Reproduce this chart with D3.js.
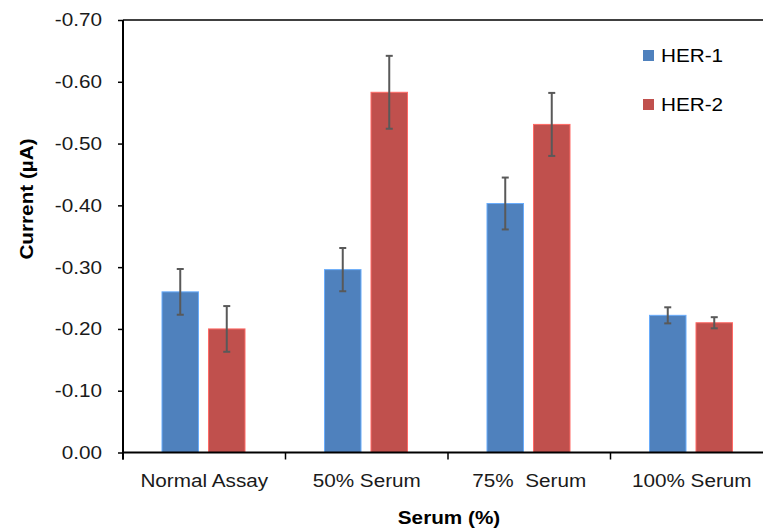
<!DOCTYPE html>
<html lang="en">
<head>
    <meta charset="UTF-8">
    <title>Current vs Serum</title>
    <script src="https://cdn.jsdelivr.net/npm/d3@7"></script>
    <style>
        body {
            margin: 0;
            background: #fff;
        }
        svg {
            display: block;
            font-family: "Liberation Sans", Arial, sans-serif;
        }
        .tick text {
            font-size: 18.5px;
            fill: #1a1a1a;
        }
        .axis-title {
            font-size: 18.5px;
            font-weight: bold;
            fill: #000;
        }
        .legend text {
            font-size: 18.5px;
            fill: #000;
        }
    </style>
</head>
<body>
    <svg width="763" height="531"></svg>

    <script>
        // Categories and series
        const categories = ["Normal Assay", "50% Serum", "75%  Serum", "100% Serum"];
        const seriesNames = ["HER-1", "HER-2"];
        const seriesColors = ["#4F81BD", "#C0504D"];

        // Current (uA)
        const her1Values = [-0.260, -0.296, -0.403, -0.222];
        const her1Errors = [0.037, 0.035, 0.042, 0.013];
        const her2Values = [-0.200, -0.583, -0.531, -0.210];
        const her2Errors = [0.037, 0.059, 0.051, 0.009];

        const yTicks = [0, -0.1, -0.2, -0.3, -0.4, -0.5, -0.6, -0.7];

        const svg = d3.select("svg");
        const plotLeft = 123, plotRight = 773, plotTop = 20, plotBottom = 452.5;
        const stretch = 1.12;   // the original figure text is a bit wide

        const x0 = d3.scaleBand().domain(categories).range([plotLeft, plotRight]);
        const x1 = d3.scaleBand().domain(seriesNames)
            .range([39, 39 + 83]).paddingInner(0.215);
        const y = d3.scaleLinear().domain([0, -0.7]).range([plotBottom, plotTop]);

        const locale = d3.formatLocale({ decimal: ".", thousands: ",", grouping: [3], currency: ["", ""], minus: "-" });
        const fmt = locale.format(".2f");

        function widen(sel, sx) {
            sel.each(function() {
                const t = d3.select(this);
                const xx = +t.attr("x") || 0;
                t.attr("transform", `translate(${xx * (1 - sx)},0) scale(${sx},1)`);
            });
        }

        // bars
        const rows = categories.map((c, i) => ({
            cat: c,
            vals: [
                { s: seriesNames[0], v: her1Values[i], e: her1Errors[i], color: seriesColors[0] },
                { s: seriesNames[1], v: her2Values[i], e: her2Errors[i], color: seriesColors[1] }
            ]
        }));

        const groups = svg.append("g")
            .selectAll("g")
            .data(rows)
            .enter().append("g")
            .attr("transform", d => `translate(${x0(d.cat)},0)`);

        groups.selectAll("rect")
            .data(d => d.vals)
            .enter().append("rect")
            .attr("x", d => x1(d.s))
            .attr("width", x1.bandwidth())
            .attr("y", d => y(d.v))
            .attr("height", d => y(0) - y(d.v))
            .attr("fill", d => d.color)
            .attr("stroke", d => d3.color(d.color).brighter(0.8))
            .attr("stroke-width", 1);

        // error bars
        const err = groups.selectAll("g.err")
            .data(d => d.vals)
            .enter().append("g")
            .attr("class", "err")
            .attr("stroke", "#595959")
            .attr("stroke-width", 2);

        const cx = d => x1(d.s) + x1.bandwidth() / 2;
        err.append("line")
            .attr("x1", cx).attr("x2", cx)
            .attr("y1", d => y(d.v - d.e)).attr("y2", d => y(d.v + d.e));
        err.append("line")
            .attr("x1", d => cx(d) - 3.5).attr("x2", d => cx(d) + 3.5)
            .attr("y1", d => y(d.v - d.e)).attr("y2", d => y(d.v - d.e));
        err.append("line")
            .attr("x1", d => cx(d) - 3.5).attr("x2", d => cx(d) + 3.5)
            .attr("y1", d => y(d.v + d.e)).attr("y2", d => y(d.v + d.e));

        // y axis
        const yAxis = svg.append("g")
            .attr("transform", `translate(${plotLeft},0)`)
            .call(d3.axisLeft(y).tickValues(yTicks).tickFormat(fmt)
                .tickSize(5).tickSizeOuter(0).tickPadding(16));
        yAxis.select(".domain").remove();
        yAxis.selectAll(".tick line").attr("stroke", "#000").attr("stroke-width", 1.5);
        widen(yAxis.selectAll(".tick text"), stretch);

        // x axis labels
        const xAxis = svg.append("g")
            .attr("transform", `translate(0,${plotBottom})`)
            .call(d3.axisBottom(x0).tickSize(0).tickPadding(21));
        xAxis.select(".domain").remove();
        xAxis.selectAll(".tick text").style("white-space", "pre");
        widen(xAxis.selectAll(".tick text"), stretch);

        // boundary ticks between categories
        const bounds = categories.map(c => x0(c)).concat([plotRight]);
        svg.append("g")
            .selectAll("line")
            .data(bounds)
            .enter().append("line")
            .attr("x1", d => d).attr("x2", d => d)
            .attr("y1", plotBottom).attr("y2", plotBottom + 7)
            .attr("stroke", "#000").attr("stroke-width", 1.5);

        // frame lines
        svg.append("line")
            .attr("x1", plotLeft).attr("x2", 763).attr("y1", plotTop).attr("y2", plotTop)
            .attr("stroke", "#000").attr("stroke-width", 1.5);
        svg.append("line")
            .attr("x1", plotLeft).attr("x2", plotLeft).attr("y1", plotTop).attr("y2", plotBottom + 7)
            .attr("stroke", "#000").attr("stroke-width", 2);
        svg.append("line")
            .attr("x1", plotLeft).attr("x2", 763).attr("y1", plotBottom).attr("y2", plotBottom)
            .attr("stroke", "#000").attr("stroke-width", 2);

        // axis titles
        svg.append("text")
            .attr("class", "axis-title")
            .attr("text-anchor", "middle")
            .attr("transform", `translate(33,199) rotate(-90) scale(${stretch},1)`)
            .text("Current (µA)");
        svg.append("text")
            .attr("class", "axis-title")
            .attr("text-anchor", "middle")
            .attr("transform", `translate(449,524) scale(${stretch},1)`)
            .text("Serum (%)");

        // legend
        const legend = svg.append("g")
            .attr("class", "legend")
            .selectAll("g")
            .data(seriesNames)
            .enter().append("g")
            .attr("transform", (d, i) => `translate(643,${50 + i * 49})`);
        legend.append("rect")
            .attr("width", 11).attr("height", 11)
            .attr("fill", (d, i) => seriesColors[i]);
        legend.append("text")
            .attr("x", 18).attr("y", 12)
            .text(d => d);
        widen(legend.selectAll("text"), stretch);
    </script>
</body>
</html>
